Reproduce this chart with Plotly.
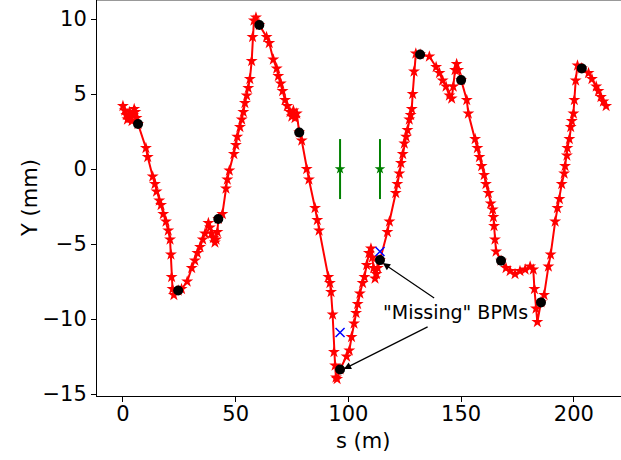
import plotly.graph_objects as go

# Orbit (red line with star markers)
s_orbit = [0, 0.8, 1.5, 2.0, 2.5, 3.0, 3.5, 4.0, 4.5, 5.0, 5.5, 6.0, 6.7,
           10.2, 11.0, 13.2, 14.2, 14.9, 16.1, 16.9, 17.9, 19.1, 20.1, 20.9, 21.3, 21.6, 22.0, 22.6,
           24.5, 26.0, 28.5, 30.5, 31.9, 33.0, 34.2, 35.4, 36.4, 37.9, 38.6, 39.3, 40.1, 40.8, 41.3, 41.9,
           42.3, 44.1, 45.7, 46.3, 47.2, 49.2, 50.1, 50.7, 51.9, 52.7, 53.4, 54.1, 54.9, 55.6, 56.3, 57.1,
           57.5, 58.1, 59.0, 60.5, 63.7, 64.9, 66.7, 68.2, 68.9, 70.0, 70.8, 71.9, 72.9, 74.1, 74.9, 75.6,
           76.3, 77.1, 78.2, 79.3, 81.5, 82.5, 85.2, 86.2, 87.0, 91.1, 91.8, 92.3, 93.0, 93.6, 94.1, 94.5,
           95.0, 96.3, 99.2, 100.4, 101.4, 102.5, 103.4, 104.1, 105.1, 106.3, 107.1, 108.1, 109.1, 110.0,
           110.6, 111.2, 111.8, 112.4, 113.0, 114.0, 117.3, 118.2, 121.0, 121.7, 122.6, 123.3, 124.1, 124.8,
           125.6, 126.2, 127.0, 127.6, 128.1, 128.5, 129.1, 129.9, 131.8, 135.9, 138.9, 140.4, 141.8, 143.3,
           144.8, 145.8, 146.5, 147.3, 148.0, 148.7, 150.0, 152.5, 153.2, 156.2, 157.2, 158.1, 159.1, 160.2,
           161.0, 162.1, 163.1, 164.0, 164.3, 164.6, 165.0, 165.5, 167.7, 169.9, 171.7, 173.9, 176.1, 178.4,
           180.6, 182.0, 182.5, 183.2, 183.8, 185.4, 186.8, 188.7, 189.7, 191.7, 192.7, 193.6, 194.6, 195.7,
           196.1, 196.9, 197.1, 198.0, 198.6, 199.1, 199.8, 200.2, 200.8, 201.6, 203.5, 206.5, 208.0, 209.9,
           210.9, 212.0, 213.1, 214.3]
y_orbit = [4.2, 3.9, 3.6, 3.3, 3.5, 3.8, 3.4, 3.2, 3.6, 4.0, 3.8, 3.4, 3.0,
           1.4, 0.8, -0.5, -1.0, -1.5, -2.1, -2.4, -3.0, -3.5, -4.1, -4.7, -5.7, -7.2, -8.0, -8.4,
           -8.1, -8.0, -7.5, -6.6, -6.1, -5.6, -5.2, -4.7, -4.3, -3.6, -3.9, -4.3, -4.6, -4.9, -4.7, -4.2,
           -3.33, -3.0, -1.3, -0.7, -0.1, 1.0, 1.6, 2.15, 2.8, 3.3, 3.8, 4.4, 4.9, 5.4, 6.0, 7.2,
           8.8, 9.9, 10.1, 9.6, 8.8, 8.4, 7.3, 6.7, 6.2, 5.7, 5.2, 4.6, 4.2, 3.8, 3.5, 3.9,
           3.4, 3.7, 2.44, 1.9, 0.0, -0.7, -2.6, -3.4, -4.1, -7.2, -7.6, -8.2, -9.7, -12.2, -13.1, -13.9,
           -14.0, -13.36, -12.5, -12.1, -11.2, -10.3, -9.6, -9.0, -8.3, -7.6, -7.2, -6.4, -5.6, -5.3,
           -5.9, -6.6, -7.3, -7.0, -6.6, -6.07, -4.2, -3.5, -1.6, -1.0, -0.3, 0.4, 1.0, 1.7,
           2.15, 2.6, 3.3, 3.6, 4.0, 5.0, 6.5, 7.7, 7.64, 7.5, 6.8, 6.4, 5.9, 5.5,
           4.9, 4.7, 5.5, 6.6, 7.0, 6.6, 5.93, 4.6, 3.7, 2.0, 1.4, 0.8, 0.2, -0.4,
           -1.0, -1.6, -2.3, -2.7, -3.2, -3.8, -4.7, -5.5, -6.11, -6.6, -6.8, -7.0, -6.8, -6.7,
           -6.5, -6.7, -8.0, -9.3, -10.2, -8.89, -8.4, -6.5, -5.7, -3.5, -2.6, -2.0, -1.0, -0.3,
           0.2, 0.9, 1.4, 2.0, 2.8, 3.2, 3.7, 4.6, 5.9, 6.9, 6.71, 6.4, 6.0, 5.5,
           5.2, 4.8, 4.5, 4.2]

# BPM readings (black dots)
s_bpm = [6.7, 24.5, 42.3, 60.5, 78.2, 96.3, 114.0, 131.8, 150.0, 167.7, 185.4, 203.5]
y_bpm = [3.0, -8.1, -3.33, 9.6, 2.44, -13.36, -6.07, 7.64, 5.93, -6.11, -8.89, 6.71]

# Missing BPMs: placeholder reading with error bars, and estimate
s_missing = [96.3, 114.0]
y_missing = [0.0, 0.0]
err_missing = [2.0, 2.0]
y_estimate = [-10.9, -5.5]

# Annotation geometry (data units)
ann_text = '"Missing" BPMs'
ann_text_pos = (147.3, -9.53)
arrow_tails = [(138.7, -8.67), (135.8, -10.47)]
arrow_heads = [(115.3, -6.27), (98.0, -13.33)]

FONT = "DejaVu Sans"

fig = go.Figure()
fig.add_trace(go.Scatter(x=s_orbit, y=y_orbit, mode="lines+markers",
                         line=dict(color="red", width=2),
                         marker=dict(symbol="star", size=9, color="red", line=dict(width=0)),
                         showlegend=False))
fig.add_trace(go.Scatter(x=s_bpm, y=y_bpm, mode="markers",
                         marker=dict(symbol="circle", size=10, color="black"),
                         showlegend=False))
fig.add_trace(go.Scatter(x=s_missing, y=y_missing, mode="markers",
                         marker=dict(symbol="star", size=8, color="green"),
                         error_y=dict(type="data", array=err_missing, color="green",
                                      thickness=2, width=0),
                         showlegend=False))
fig.add_trace(go.Scatter(x=s_missing, y=y_estimate, mode="markers",
                         marker=dict(symbol="x-thin", size=9, color="blue",
                                     line=dict(color="blue", width=1.5)),
                         showlegend=False))

for (tx, ty), (hx, hy) in zip(arrow_tails, arrow_heads):
    fig.add_annotation(x=hx, y=hy, ax=tx, ay=ty, xref="x", yref="y", axref="x", ayref="y",
                       text="", showarrow=True, arrowhead=2, arrowsize=1.2, arrowwidth=1.2,
                       arrowcolor="black", standoff=0)
fig.add_annotation(x=ann_text_pos[0], y=ann_text_pos[1], xref="x", yref="y",
                   text=ann_text, showarrow=False, font=dict(family=FONT, size=19, color="black"),
                   xanchor="center", yanchor="middle")

# axis titles
fig.add_annotation(x=106.5, y=-0.1136, xref="x", yref="paper", text="s (m)", showarrow=False,
                   font=dict(family=FONT, size=21, color="black"), xanchor="center", yanchor="middle")
fig.add_annotation(x=-0.128, y=0.5, xref="paper", yref="paper", text="Y (mm)", showarrow=False,
                   textangle=-90, font=dict(family=FONT, size=21, color="black"),
                   xanchor="center", yanchor="middle")

fig.add_shape(type="line", xref="paper", yref="paper", x0=0, x1=1, y0=1, y1=1,
              line=dict(color="#999999", width=2))

fig.update_layout(
    width=621, height=460,
    margin=dict(l=97, r=0, t=0, b=64),
    paper_bgcolor="white", plot_bgcolor="white",
    font=dict(family=FONT, size=21, color="black"),
    xaxis=dict(range=[-11.5, 220.9], tickvals=[0, 50, 100, 150, 200],
               showgrid=False, zeroline=False, showline=True, linecolor="black", linewidth=1,
               ticks="outside", ticklen=5, tickcolor="black", tickfont=dict(size=21),
               ticklabelstandoff=-6),
    yaxis=dict(range=[-15.13, 11.27], tickvals=[-15, -10, -5, 0, 5, 10],
               showgrid=False, zeroline=False, showline=True, linecolor="black", linewidth=1,
               ticks="outside", ticklen=5, tickcolor="black", tickfont=dict(size=21)),
)

fig.write_html("out.html", config={"displayModeBar": False},
               post_script="document.body.style.margin='0';document.body.style.overflow='hidden';")
